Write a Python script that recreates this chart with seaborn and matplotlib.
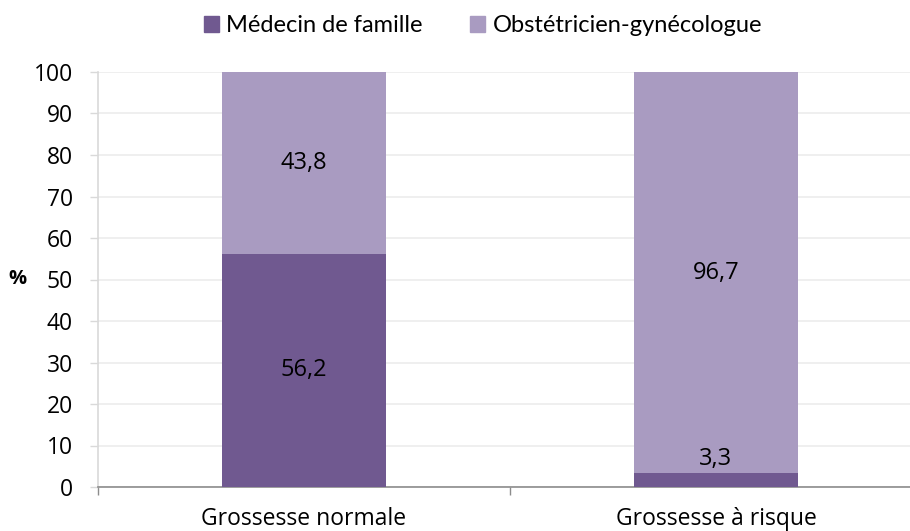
import matplotlib
matplotlib.use("Agg")
from matplotlib import pyplot as plt
import pandas as pd
import seaborn as sns

categories = ['Grossesse normale', 'Grossesse à risque']
series = ['Médecin de famille', 'Obstétricien-gynécologue']
medecin = [56.2, 3.3]
obstetricien = [43.8, 96.7]
colors = ['#705990', '#A99BC1']

df = pd.DataFrame({
    'cat': categories,
    'med': medecin,
    'obs': obstetricien,
})
df['total'] = df['med'] + df['obs']

sns.set_style('white')
plt.rcParams['font.family'] = ['Open Sans', 'DejaVu Sans']
plt.rcParams['text.color'] = 'black'
plt.rcParams['xtick.color'] = 'black'
plt.rcParams['ytick.color'] = 'black'
plt.rcParams['axes.labelcolor'] = 'black'

fig = plt.figure(figsize=(9.1, 5.31), dpi=100)
ax = fig.add_axes([98 / 910, 44 / 531, 824 / 910, 415 / 531])

# stacked: draw the total in the light colour, then the bottom part over it
sns.barplot(data=df, x='cat', y='total', color=colors[1], width=0.4,
            saturation=1, ax=ax, edgecolor='none', zorder=2)
sns.barplot(data=df, x='cat', y='med', color=colors[0], width=0.4,
            saturation=1, ax=ax, edgecolor='none', zorder=3)

ax.set_xlim(-0.5, 1.5)
ax.set_ylim(0, 100)
ax.set_yticks(range(0, 101, 10))
ax.yaxis.grid(True, color='#ececec', linewidth=1.2, zorder=0)
ax.set_axisbelow(True)

for s in ['top', 'right']:
    ax.spines[s].set_visible(False)
ax.spines['left'].set_color('#d9d9d9')
ax.spines['left'].set_linewidth(1.2)
ax.spines['bottom'].set_color('#8c8c8c')
ax.spines['bottom'].set_linewidth(1.2)

ax.tick_params(axis='y', length=6, width=1, color='#d9d9d9', labelsize=16.5,
               left=True, pad=12)
ax.tick_params(axis='x', length=0, labelsize=16.5, pad=14.5)
ax.set_xticks([0, 1])
ax.set_xticklabels(categories)
# category separator ticks
ax.set_xticks([-0.5, 0.5, 1.5], minor=True)
ax.tick_params(axis='x', which='minor', length=6, width=1, color='#8c8c8c',
               bottom=True)

ax.set_xlabel('')
ax.set_ylabel('%', rotation=0, fontsize=14.5, fontweight='bold', labelpad=12,
              va='center')

# data labels
lab = 17
for i in range(len(categories)):
    m = medecin[i]
    o = obstetricien[i]
    if m > 10:
        ax.text(i, m / 2, f'{m:.1f}'.replace('.', ','), ha='center',
                va='center', fontsize=lab, zorder=5)
    else:
        ax.annotate(f'{m:.1f}'.replace('.', ','), (i, m), xytext=(0, 2),
                    textcoords='offset points', ha='center', va='bottom',
                    fontsize=lab, zorder=5)
    ax.text(i, m + o / 2, f'{o:.1f}'.replace('.', ','), ha='center',
            va='center', fontsize=lab, zorder=5)

handles = [plt.Rectangle((0, 0), 1, 1, color=c) for c in colors]
fig.legend(handles, series, loc='center', bbox_to_anchor=(483 / 910, 1 - 26 / 531),
           ncol=2, frameon=False, prop={'family': 'Lato', 'size': 17},
           handlelength=0.65, handleheight=0.65, handletextpad=0.3,
           columnspacing=2.0, borderaxespad=0)

fig.savefig('out.png', dpi=100)
